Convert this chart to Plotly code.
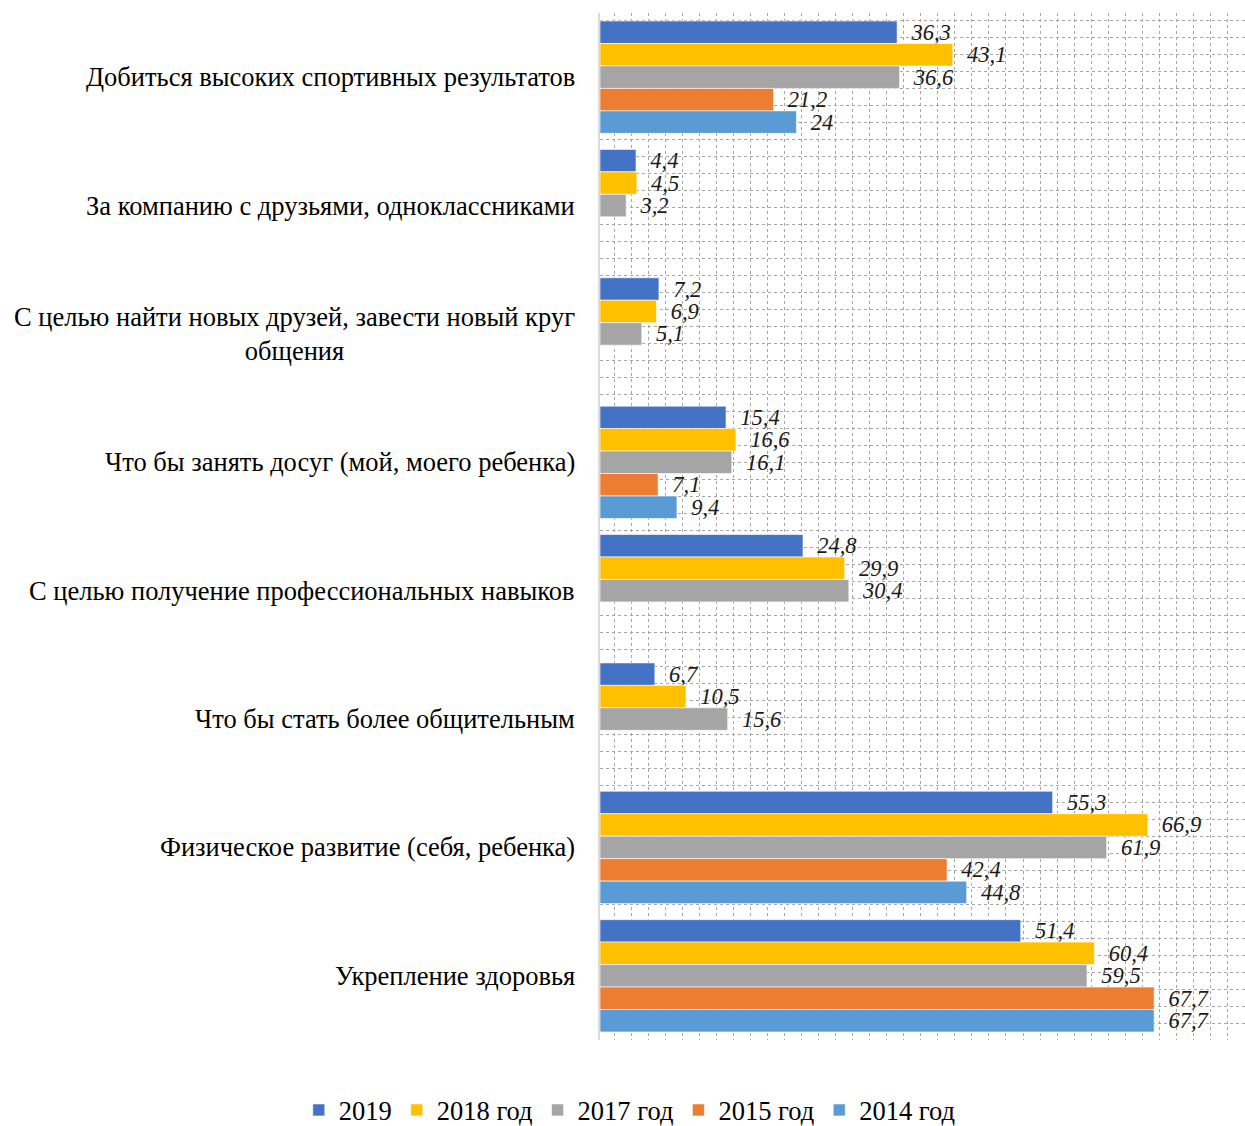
import plotly.graph_objects as go

categories = [
    "Добиться высоких спортивных результатов",
    "За компанию с друзьями, одноклассниками",
    "С целью найти новых друзей, завести новый круг<br>общения",
    "Что бы занять досуг (мой, моего ребенка)",
    "С целью получение профессиональных навыков",
    "Что бы стать более общительным",
    "Физическое развитие (себя, ребенка)",
    "Укрепление здоровья",
]

series_names = ["2019", "2018 год", "2017 год", "2015 год", "2014 год"]
v2019 = [36.3, 4.4, 7.2, 15.4, 24.8, 6.7, 55.3, 51.4]
v2018 = [43.1, 4.5, 6.9, 16.6, 29.9, 10.5, 66.9, 60.4]
v2017 = [36.6, 3.2, 5.1, 16.1, 30.4, 15.6, 61.9, 59.5]
v2015 = [21.2, None, None, 7.1, None, None, 42.4, 67.7]
v2014 = [24, None, None, 9.4, None, None, 44.8, 67.7]
series_values = [v2019, v2018, v2017, v2015, v2014]
colors = ["#4472C4", "#FFC000", "#A5A5A5", "#ED7D31", "#5B9BD5"]

FONT = "Liberation Serif, Times New Roman, serif"


def fmt(v):
    if v is None:
        return ""
    s = ("%g" % v).replace(".", ",")
    return "\u00a0\u00a0" + s


fig = go.Figure()
for name, vals, col in zip(series_names, series_values, colors):
    fig.add_trace(go.Bar(
        y=categories, x=vals, name=name, orientation="h",
        marker=dict(color=col, line=dict(color="rgba(255,255,255,0.6)", width=1)),
        text=[fmt(v) for v in vals], textposition="outside",
        textfont=dict(family=FONT, size=22.5, color="#1a1a1a", style="italic"),
        constraintext="none", cliponaxis=False,
    ))

# invisible trace to carry the overlay axis used for horizontal dotted grid
fig.add_trace(go.Scatter(x=[None], y=[None], yaxis="y2", showlegend=False,
                         hoverinfo="skip"))

annotations = []
for c in categories:
    annotations.append(dict(
        x=0, xref="paper", y=c, yref="y", xanchor="right", yanchor="middle",
        xshift=-23, text=c, showarrow=False, align="center",
        font=dict(family=FONT, size=26.5, color="#000000"),
    ))

fig.update_layout(
    width=1245, height=1126,
    margin=dict(l=600, r=0, t=13, b=86, autoexpand=False),
    paper_bgcolor="white", plot_bgcolor="white",
    barmode="group", bargap=0.125, bargroupgap=0,
    font=dict(family=FONT, size=24, color="#000000"),
    showlegend=True,
    legend=dict(orientation="h", xref="paper", x=-0.467, xanchor="left",
                yref="paper", y=-0.045, yanchor="top",
                font=dict(family=FONT, size=26.5, color="#000000"),
                traceorder="normal", itemwidth=30),
    annotations=annotations,
    xaxis=dict(range=[0, 78.8], showgrid=True, gridcolor="#a6a6a6", griddash="dot",
               gridwidth=1, tick0=1.76, dtick=2.08, showticklabels=False,
               zeroline=False, showline=False, ticks=""),
    yaxis=dict(autorange="reversed", showticklabels=False, showgrid=False,
               showline=True, linecolor="#d9d9d9", linewidth=2, ticks=""),
    yaxis2=dict(overlaying="y", range=[0, 1027], tick0=0, dtick=17, showgrid=True,
                gridcolor="#a6a6a6", griddash="dot", gridwidth=1,
                showticklabels=False, zeroline=False, showline=False, ticks=""),
)

fig.write_html("out.html", config={"displayModeBar": False},
               post_script="document.body.style.margin='0';document.body.style.overflow='hidden';")
